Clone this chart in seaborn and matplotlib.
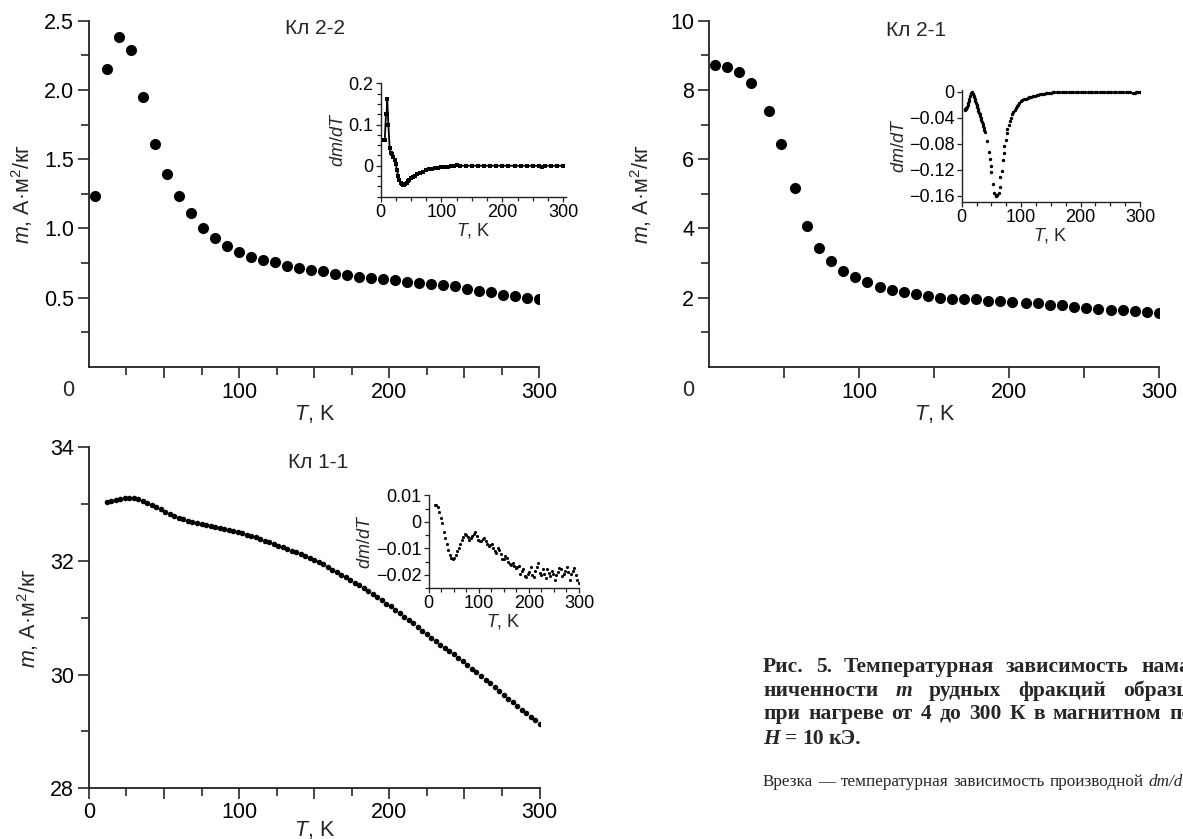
import matplotlib
matplotlib.use("Agg")
import matplotlib.pyplot as plt
import seaborn as sns
import numpy as np
import pandas as pd
from matplotlib.ticker import FixedLocator, NullFormatter, FixedFormatter

# ---------------- data ----------------
# Кл 2-2 main curve
T_22 = [4, 12, 20, 28, 36, 44, 52, 60, 68, 76, 84, 92, 100, 108, 116, 124, 132, 140, 148,
        156, 164, 172, 180, 188, 196, 204, 212, 220, 228, 236, 244, 252, 260, 268, 276,
        284, 292, 300]
m_22 = [1.23, 2.15, 2.38, 2.29, 1.95, 1.61, 1.39, 1.23, 1.11, 1.00, 0.93, 0.87, 0.83, 0.79,
        0.77, 0.76, 0.73, 0.71, 0.70, 0.69, 0.67, 0.66, 0.65, 0.64, 0.635, 0.625, 0.61,
        0.605, 0.60, 0.59, 0.58, 0.56, 0.55, 0.54, 0.52, 0.51, 0.50, 0.49]
# Кл 2-2 inset dm/dT
Ti_22 = [5, 7, 9, 10, 11, 13, 15, 17, 19, 21, 23, 25, 27, 29, 31, 33, 35, 37, 39, 41, 43, 45,
         47, 50, 53, 56, 60, 65, 70, 75, 80, 85, 90, 95, 100, 105, 110, 115, 120, 125, 130,
         140, 150, 160, 170, 180, 190, 200, 210, 220, 230, 240, 250, 260, 265, 270, 280, 290, 300]
d_22 = [0.063, 0.063, 0.125, 0.125, 0.162, 0.098, 0.043, 0.031, 0.028, 0.022, 0.015, 0.004,
        -0.010, -0.025, -0.035, -0.042, -0.045, -0.046, -0.046, -0.044, -0.041, -0.037,
        -0.034, -0.030, -0.027, -0.024, -0.020, -0.017, -0.014, -0.011, -0.009, -0.008,
        -0.006, -0.005, -0.004, -0.003, -0.002, -0.0015, -0.001, 0.001, 0.0, 0.0, 0.0, 0.0,
        0.0, 0.0, 0.0, 0.0, 0.0, 0.0, 0.0, 0.0, 0.0, 0.0, -0.002, 0.0, 0.0, 0.0, 0.0]

# Кл 2-1 main curve
T_21 = [4, 12, 20, 28, 40, 48, 57, 65, 73, 81, 89, 97, 105, 114, 122, 130, 138, 146, 154,
        162, 170, 178, 186, 194, 202, 211, 219, 227, 235, 243, 251, 259, 268, 276, 284, 292, 300]
m_21 = [8.72, 8.67, 8.53, 8.21, 7.39, 6.45, 5.17, 4.08, 3.44, 3.05, 2.76, 2.60, 2.45, 2.31,
        2.22, 2.15, 2.09, 2.05, 2.00, 1.97, 1.96, 1.95, 1.91, 1.89, 1.87, 1.85, 1.83, 1.79,
        1.77, 1.73, 1.70, 1.67, 1.65, 1.63, 1.61, 1.58, 1.56]
# Кл 2-1 inset dm/dT
Ti_21 = [5, 6, 7, 8, 9, 10, 11, 12, 13, 14, 15, 16, 17, 18, 19, 20, 21, 22, 23, 24, 25, 26,
         27, 28, 29, 30, 31, 32, 33, 34, 35, 36, 37, 38, 39, 43, 46, 47, 49, 50, 53, 55, 57,
         58, 60, 62, 64, 65, 67, 69, 71, 72, 74, 76, 77, 79, 81, 83, 85, 87, 89, 91, 93, 95,
         97, 99, 102, 105, 108, 111, 114, 117, 120, 123, 126, 129, 132, 135, 138, 141, 144,
         147, 150, 153, 156, 160, 164, 168, 172, 176, 180, 184, 188, 192, 196, 200, 204, 208,
         212, 216, 220, 224, 228, 232, 236, 240, 244, 248, 252, 256, 260, 264, 268, 272, 276,
         280, 284, 288, 291, 294, 297, 300]
d_21 = [-0.028, -0.027, -0.026, -0.025, -0.023, -0.021, -0.018, -0.015, -0.011, -0.007,
        -0.004, -0.002, -0.001, -0.002, -0.004, -0.006, -0.008, -0.011, -0.014, -0.017,
        -0.020, -0.023, -0.026, -0.029, -0.032, -0.035, -0.038, -0.041, -0.044, -0.047,
        -0.050, -0.053, -0.056, -0.059, -0.062, -0.076, -0.092, -0.104, -0.114, -0.124,
        -0.142, -0.155, -0.159, -0.160, -0.159, -0.155, -0.146, -0.131, -0.122, -0.105,
        -0.094, -0.084, -0.075, -0.063, -0.058, -0.051, -0.045, -0.040, -0.035, -0.031,
        -0.028, -0.025, -0.022, -0.020, -0.017, -0.015, -0.013, -0.0118, -0.0105, -0.0094,
        -0.0084, -0.0076, -0.0068, -0.006, -0.0052, -0.0046, -0.004, -0.0035, -0.003,
        -0.0026, -0.0022, -0.0018, -0.0015, -0.0012, -0.001, -0.0008, -0.0006, -0.0005,
        -0.0004, -0.0004, -0.0003, -0.0003, -0.0002, -0.0003, -0.0002, -0.0002, -0.0003,
        -0.0002, -0.0002, -0.0003, -0.0002, -0.0002, -0.0003, -0.0002, -0.0002, -0.0003,
        -0.0002, -0.0002, -0.0003, -0.0002, -0.0002, -0.0003, -0.0002, -0.0002, -0.0003,
        -0.0002, -0.0010, -0.0025, -0.0015, -0.0005, -0.0002, 0.0002]

# Кл 1-1 main curve
T_11 = [12, 15, 18, 21, 24, 27, 30, 33, 36, 39, 42, 45, 48, 51, 54, 57, 60, 63, 66, 69, 72,
        75, 78, 81, 84, 87, 90, 93, 96, 99, 102, 105, 108, 111, 114, 117, 120, 123, 126,
        129, 132, 135, 138, 141, 144, 147, 150, 153, 156, 159, 162, 165, 168, 171, 174, 177,
        180, 183, 186, 189, 192, 195, 198, 201, 204, 207, 210, 213, 216, 219, 222, 225, 228,
        231, 234, 237, 240, 243, 246, 249, 252, 255, 258, 261, 264, 267, 270, 273, 276, 279,
        282, 285, 288, 291, 294, 297, 300, 303, 306]
m_11 = [33.04, 33.06, 33.08, 33.09, 33.10, 33.10, 33.10, 33.09, 33.06, 33.02, 32.99, 32.95,
        32.91, 32.87, 32.83, 32.79, 32.76, 32.73, 32.71, 32.69, 32.67, 32.65, 32.63, 32.62,
        32.60, 32.58, 32.57, 32.55, 32.53, 32.51, 32.49, 32.46, 32.44, 32.42, 32.39, 32.36,
        32.33, 32.29, 32.27, 32.24, 32.21, 32.18, 32.15, 32.12, 32.09, 32.05, 32.02, 31.98,
        31.94, 31.89, 31.84, 31.80, 31.75, 31.71, 31.67, 31.62, 31.57, 31.52, 31.47, 31.41,
        31.36, 31.31, 31.25, 31.20, 31.14, 31.08, 31.02, 30.96, 30.90, 30.84, 30.77, 30.71,
        30.65, 30.59, 30.53, 30.47, 30.41, 30.36, 30.30, 30.24, 30.17, 30.10, 30.04, 29.97,
        29.91, 29.85, 29.78, 29.72, 29.65, 29.58, 29.51, 29.44, 29.38, 29.32, 29.26, 29.20,
        29.14, 29.10, 29.05]
# Кл 1-1 inset dm/dT
Ti_11 = [12, 15, 18, 21, 24, 27, 30, 33, 36, 39, 42, 45, 48, 51, 54, 57, 60, 63, 66, 69, 72,
         75, 78, 81, 84, 87, 90, 93, 96, 99, 102, 105, 108, 111, 114, 117, 120, 123, 126,
         129, 132, 135, 138, 141, 144, 147, 150, 153, 156, 159, 162, 165, 168, 171, 174, 177,
         180, 183, 186, 189, 192, 195, 198, 201, 204, 207, 210, 213, 216, 219, 222, 225, 228,
         231, 234, 237, 240, 243, 246, 249, 252, 255, 258, 261, 264, 267, 270, 273, 276, 279,
         282, 285, 288, 291, 294, 297, 300]
d_11 = [0.0065, 0.0062, 0.0055, 0.0038, 0.0015, -0.0005, -0.0038, -0.0062, -0.0085, -0.0105,
        -0.0125, -0.0137, -0.0140, -0.0136, -0.0126, -0.0112, -0.0100, -0.0084, -0.0068,
        -0.0058, -0.0048, -0.0050, -0.0058, -0.0068, -0.0062, -0.0055, -0.0045, -0.0040,
        -0.0052, -0.0068, -0.0074, -0.0072, -0.0066, -0.0060, -0.0072, -0.0084, -0.0090,
        -0.0086, -0.0082, -0.0100, -0.0112, -0.0116, -0.0098, -0.0108, -0.0122, -0.0140,
        -0.0142, -0.0130, -0.0138, -0.0152, -0.0160, -0.0163, -0.0155, -0.0166, -0.0176,
        -0.0170, -0.0166, -0.0196, -0.0186, -0.0178, -0.0206, -0.0210, -0.0196, -0.0190,
        -0.0172, -0.0202, -0.0208, -0.0186, -0.0170, -0.0154, -0.0192, -0.0200, -0.0180,
        -0.0196, -0.0212, -0.0180, -0.0192, -0.0206, -0.0186, -0.0196, -0.0218, -0.0200,
        -0.0190, -0.0176, -0.0180, -0.0206, -0.0196, -0.0184, -0.0172, -0.0190, -0.0218,
        -0.0198, -0.0186, -0.0176, -0.0200, -0.0218, -0.0230]

sample_names = ["Кл 2-2", "Кл 2-1", "Кл 1-1"]
ylabel_main = r"$m$, А·м$^2$/кг"
xlabel = r"$T$, K"
ylabel_inset = r"$dm/dT$"

# ---------------- style ----------------
sns.set_theme(style="ticks")
plt.rcParams['font.family'] = ['Liberation Sans', 'DejaVu Sans']
plt.rcParams['mathtext.fontset'] = 'custom'
plt.rcParams['mathtext.rm'] = 'Liberation Sans'
plt.rcParams['mathtext.it'] = 'Liberation Sans:italic'
plt.rcParams['axes.unicode_minus'] = True

W, H = 1183, 839
fig = plt.figure(figsize=(W / 100, H / 100), dpi=100)
PX = 0.72  # points per pixel

def add_ax(left, top, right, bottom):
    return fig.add_axes([left / W, 1 - bottom / H, (right - left) / W, (bottom - top) / H])

def style_axis(ax, fs, lw, maj, mino, pad):
    for s in ["top", "right"]:
        ax.spines[s].set_visible(False)
    for s in ["left", "bottom"]:
        ax.spines[s].set_linewidth(lw)
        ax.spines[s].set_color("#222222")
    ax.tick_params(which="major", direction="out", length=maj, width=lw * 0.9,
                   color="#222222", labelsize=fs, pad=pad, labelcolor="black")
    ax.tick_params(which="minor", direction="out", length=mino, width=lw * 0.9,
                   color="#222222")
    ax.set_facecolor("none")

def set_ticks(ax, axis, major, labels, minor=None):
    a = ax.xaxis if axis == "x" else ax.yaxis
    a.set_major_locator(FixedLocator(major))
    a.set_major_formatter(FixedFormatter(labels))
    if minor is not None:
        a.set_minor_locator(FixedLocator(minor))
        a.set_minor_formatter(NullFormatter())

FS = 15.5
FSI = 13
FSN = 15
MAJ, MIN = 11.5 * PX, 8 * PX
IMAJ, IMIN = 5 * PX, 4 * PX

# ---------- panel Кл 2-2 ----------
ax1 = add_ax(88.9, 20.7, 539.3, 366.7)
sns.scatterplot(x=T_22, y=m_22, ax=ax1, color="black", s=64, linewidth=0)
ax1.set_xlim(0, 300)
ax1.set_ylim(0, 2.5)
style_axis(ax1, FS, 1.3, MAJ, MIN, 2.5)
set_ticks(ax1, "x", [50, 100, 150, 200, 250, 300], ["", "100", "", "200", "", "300"],
          [25, 75, 125, 175, 225, 275])
set_ticks(ax1, "y", [0.5, 1.0, 1.5, 2.0, 2.5], ["0.5", "1.0", "1.5", "2.0", "2.5"],
          [0.25, 0.75, 1.25, 1.75, 2.25])
ax1.set_xlabel(xlabel, fontsize=FS, labelpad=0)
ax1.set_ylabel(ylabel_main, fontsize=FS, labelpad=6)
fig.text(68.3 / W, 1 - 391 / H, "0", fontsize=FS, ha="center", va="center")
fig.text(315 / W, 1 - 29 / H, sample_names[0], fontsize=FSN, ha="center", va="center")

# inset
in1 = add_ax(380.5, 83.3, 565.7, 197.3)
sns.lineplot(x=Ti_22, y=d_22, ax=in1, color="black", linewidth=1.3, marker="s",
             markersize=3.2, markeredgewidth=0, sort=False)
in1.set_xlim(0, 304)
in1.set_ylim(-0.0765, 0.2)
style_axis(in1, FSI, 1.0, IMAJ, IMIN, 1.5)
set_ticks(in1, "x", [0, 100, 200, 300], ["0", "100", "200", "300"],
          [25, 50, 75, 125, 150, 175, 225, 250, 275])
set_ticks(in1, "y", [0, 0.1, 0.2], ["0", "0.1", "0.2"],
          [-0.075, -0.05, -0.025, 0.025, 0.05, 0.075, 0.125, 0.15, 0.175])
in1.set_xlabel(xlabel, fontsize=FSI, labelpad=0)
in1.set_ylabel(ylabel_inset, fontsize=FSI, labelpad=1)

# ---------- panel Кл 2-1 ----------
ax2 = add_ax(709.3, 20.7, 1159.3, 366.7)
sns.scatterplot(x=T_21, y=m_21, ax=ax2, color="black", s=64, linewidth=0)
ax2.set_xlim(0, 300)
ax2.set_ylim(0, 10)
style_axis(ax2, FS, 1.3, MAJ, MIN, 2.5)
set_ticks(ax2, "x", [50, 100, 150, 200, 250, 300], ["", "100", "", "200", "", "300"])
set_ticks(ax2, "y", [2, 4, 6, 8, 10], ["2", "4", "6", "8", "10"], [1, 3, 5, 7, 9])
ax2.set_xlabel(xlabel, fontsize=FS, labelpad=0)
ax2.set_ylabel(ylabel_main, fontsize=FS, labelpad=12)
fig.text(688.3 / W, 1 - 391 / H, "0", fontsize=FS, ha="center", va="center")
fig.text(916 / W, 1 - 31 / H, sample_names[1], fontsize=FSN, ha="center", va="center")

in2 = add_ax(961.7, 90.4, 1140, 202.3)
sns.scatterplot(x=Ti_21, y=d_21, ax=in2, color="black", s=6, linewidth=0)
in2.set_xlim(0, 300)
in2.set_ylim(-0.17, 0.002)
style_axis(in2, FSI, 1.0, IMAJ, IMIN, 1.5)
set_ticks(in2, "x", [0, 100, 200, 300], ["0", "100", "200", "300"],
          [25, 50, 75, 125, 150, 175, 225, 250, 275])
set_ticks(in2, "y", [-0.16, -0.12, -0.08, -0.04, 0],
          ["\u22120.16", "\u22120.12", "\u22120.08", "\u22120.04", "0"])
in2.set_xlabel(xlabel, fontsize=FSI, labelpad=0)
in2.set_ylabel(ylabel_inset, fontsize=FSI, labelpad=1)

# ---------- panel Кл 1-1 ----------
ax3 = add_ax(88.8, 447.3, 539.6, 788.3)
sns.scatterplot(x=T_11, y=m_11, ax=ax3, color="black", s=16, linewidth=0)
ax3.set_xlim(0, 300)
ax3.set_ylim(28, 34)
style_axis(ax3, FS, 1.3, MAJ, MIN, 1.5)
set_ticks(ax3, "x", [0, 50, 100, 150, 200, 250, 300], ["0", "", "100", "", "200", "", "300"],
          [25, 75, 125, 175, 225, 275])
set_ticks(ax3, "y", [28, 30, 32, 34], ["28", "30", "32", "34"], [29, 31, 33])
ax3.tick_params(axis="y", pad=2.5)
ax3.set_xlabel(xlabel, fontsize=FS, labelpad=-3)
ax3.set_ylabel(ylabel_main, fontsize=FS, labelpad=6)
fig.text(318 / W, 1 - 463 / H, sample_names[2], fontsize=FSN, ha="center", va="center")

in3 = add_ax(428.5, 495, 579, 588.3)
sns.scatterplot(x=Ti_11, y=d_11, ax=in3, color="black", s=5, linewidth=0)
in3.set_xlim(0, 300)
in3.set_ylim(-0.0251, 0.0101)
style_axis(in3, FSI, 1.0, IMAJ, IMIN, 1.5)
set_ticks(in3, "x", [0, 100, 200, 300], ["0", "100", "200", "300"],
          [25, 50, 75, 125, 150, 175, 225, 250, 275])
set_ticks(in3, "y", [-0.02, -0.01, 0, 0.01], ["\u22120.02", "\u22120.01", "0", "0.01"],
          [-0.025, -0.015, -0.005, 0.005])
in3.set_xlabel(xlabel, fontsize=FSI, labelpad=0)
in3.set_ylabel(ylabel_inset, fontsize=FSI, labelpad=1)

# ---------- caption (justified lines, cut by the right edge) ----------
serif = ['Liberation Serif', 'DejaVu Serif']
cap_fs = 15.5
renderer = fig.canvas.get_renderer()

def place_line(y, segs, x0, gap, fs, weight):
    x = x0
    for text, st in segs:
        t = fig.text(x / W, 1 - y / H, text, fontsize=fs, fontweight=weight, style=st,
                     family=serif, ha="left", va="center")
        x += t.get_window_extent(renderer).width + gap

place_line(667, [("Рис.", "normal"), ("5.", "normal"), ("Температурная", "normal"),
                 ("зависимость", "normal"), ("намагниченности", "normal")], 763, 12, cap_fs, "bold")
place_line(691, [("ниченности", "normal"), ("m", "italic"), ("рудных", "normal"),
                 ("фракций", "normal"), ("образцов", "normal")], 763, 17, cap_fs, "bold")
place_line(714, [("при", "normal"), ("нагреве", "normal"), ("от", "normal"), ("4", "normal"),
                 ("до", "normal"), ("300", "normal"), ("К", "normal"), ("в", "normal"),
                 ("магнитном", "normal"), ("поле", "normal")], 763, 8, cap_fs, "bold")
place_line(739, [("H", "italic"), ("=", "normal"), ("10", "normal"), ("кЭ.", "normal")],
           763, 5, cap_fs, "bold")
place_line(782, [("Врезка", "normal"), ("—", "normal"), ("температурная", "normal"),
                 ("зависимость", "normal"), ("производной", "normal"), ("dm/dT.", "italic")],
           763, 5, 12.3, "normal")

fig.savefig("out.png", dpi=100)
